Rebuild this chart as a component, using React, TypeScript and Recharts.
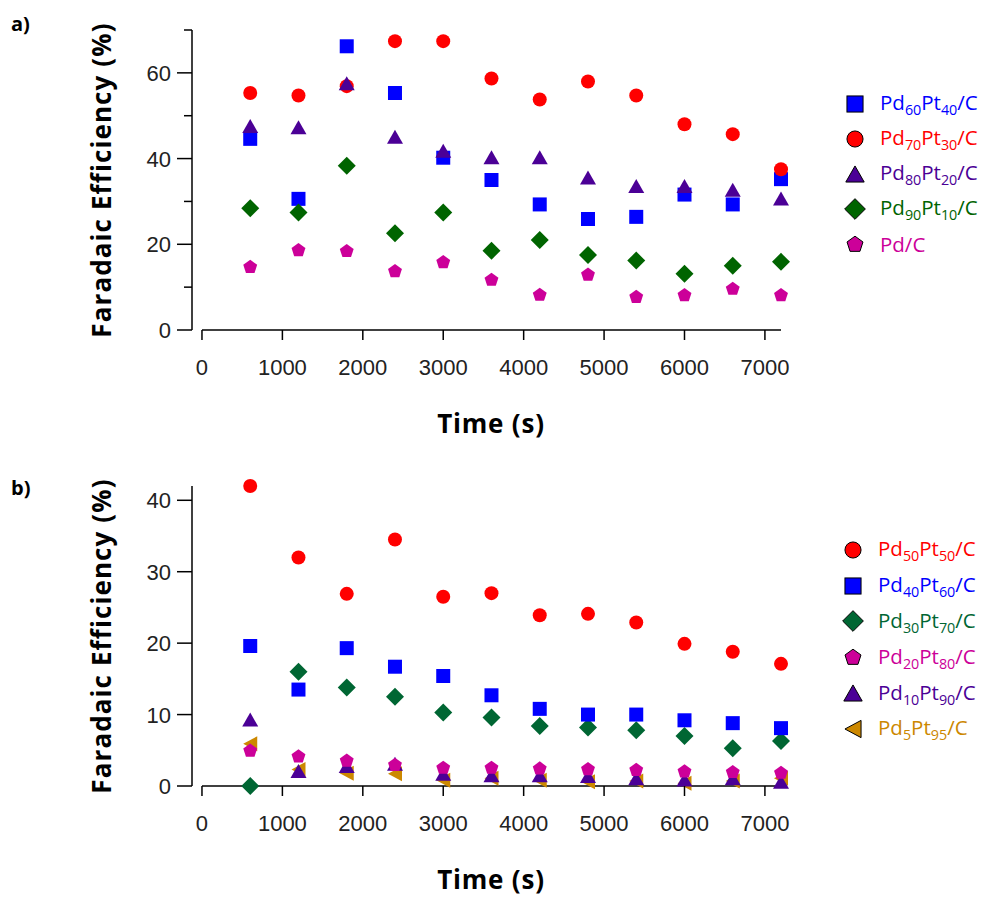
import { ScatterChart, Scatter, XAxis, YAxis, ReferenceLine } from "recharts"

const times = [600, 1200, 1800, 2400, 3000, 3600, 4200, 4800, 5400, 6000, 6600, 7200]
const xTicks = [0, 1000, 2000, 3000, 4000, 5000, 6000, 7000]
const aYTicks = [0, 10, 20, 30, 40, 50, 60, 70]
const bYTicks = [0, 10, 20, 30, 40]

// panel a
const pd60pt40 = [44.6, 30.6, 66.2, 55.3, 40.2, 35.0, 29.3, 25.9, 26.4, 31.6, 29.3, 35.2]
const pd70pt30 = [55.3, 54.7, 56.9, 67.4, 67.4, 58.7, 53.8, 58.0, 54.7, 48.0, 45.7, 37.5]
const pd80pt20 = [47.6, 47.3, 57.6, 45.1, 41.8, 40.3, 40.3, 35.6, 33.6, 33.6, 32.7, 30.7]
const pd90pt10 = [28.4, 27.4, 38.3, 22.6, 27.4, 18.5, 21.0, 17.5, 16.2, 13.1, 15.0, 15.9]
const pdC = [14.8, 18.7, 18.5, 13.8, 15.9, 11.8, 8.3, 13.0, 7.8, 8.2, 9.7, 8.2]

// panel b
const pd50pt50 = [42.0, 32.0, 26.9, 34.5, 26.5, 27.0, 23.9, 24.1, 22.9, 19.9, 18.8, 17.1]
const pd40pt60 = [19.6, 13.5, 19.3, 16.7, 15.4, 12.7, 10.8, 10.0, 10.0, 9.2, 8.8, 8.1]
const pd30pt70 = [0, 16.0, 13.8, 12.5, 10.3, 9.6, 8.4, 8.2, 7.8, 7.0, 5.3, 6.3]
const pd20pt80 = [5.0, 4.2, 3.6, 3.0, 2.6, 2.6, 2.5, 2.4, 2.3, 2.1, 2.0, 1.9]
const pd10pt90 = [9.3, 2.1, 2.8, 3.1, 1.7, 1.5, 1.5, 1.4, 1.1, 0.9, 1.1, 0.6]
const pd5pt95 = [5.9, 2.3, 1.8, 1.7, 0.8, 1.1, 0.8, 0.6, 0.7, 0.4, 0.7, 1.1]

type Kind = "square" | "circle" | "triangle" | "diamond" | "pentagon" | "left"

type SeriesDef = { pd: string; pt?: string; values: number[]; color: string; kind: Kind }

const seriesA: SeriesDef[] = [
  { pd: "60", pt: "40", values: pd60pt40, color: "#0000ff", kind: "square" },
  { pd: "70", pt: "30", values: pd70pt30, color: "#ff0000", kind: "circle" },
  { pd: "80", pt: "20", values: pd80pt20, color: "#4b0096", kind: "triangle" },
  { pd: "90", pt: "10", values: pd90pt10, color: "#006400", kind: "diamond" },
  { pd: "", values: pdC, color: "#cc0099", kind: "pentagon" },
]

const seriesB: SeriesDef[] = [
  { pd: "50", pt: "50", values: pd50pt50, color: "#ff0000", kind: "circle" },
  { pd: "40", pt: "60", values: pd40pt60, color: "#0000ff", kind: "square" },
  { pd: "30", pt: "70", values: pd30pt70, color: "#006633", kind: "diamond" },
  { pd: "20", pt: "80", values: pd20pt80, color: "#cc0099", kind: "pentagon" },
  { pd: "10", pt: "90", values: pd10pt90, color: "#4b0096", kind: "triangle" },
  { pd: "5", pt: "95", values: pd5pt95, color: "#cc8800", kind: "left" },
]
// drawing order for b: gold and purple underneath the rest
const drawOrderB = [5, 4, 2, 1, 0, 3]

const toData = (vals: number[]) => times.map((t, i) => ({ t, v: vals[i] }))

function Marker({ cx, cy, kind, color, k = 1, stroke }: any) {
  const common = { fill: color, stroke: stroke || "none", strokeWidth: stroke ? 1 : 0 }
  if (kind === "square") {
    const s = 7 * k
    return <rect x={cx - s} y={cy - s} width={2 * s} height={2 * s} {...common} />
  }
  if (kind === "circle") return <circle cx={cx} cy={cy} r={7 * k} {...common} />
  if (kind === "triangle") {
    const w = 8 * k
    const h = 7 * k
    return <polygon points={`${cx - w},${cy + h} ${cx + w},${cy + h} ${cx},${cy - h}`} {...common} />
  }
  if (kind === "diamond") {
    const s = 9 * k
    return <polygon points={`${cx},${cy - s} ${cx + s},${cy} ${cx},${cy + s} ${cx - s},${cy}`} {...common} />
  }
  if (kind === "left") {
    const w = 7 * k
    const h = 7.5 * k
    return <polygon points={`${cx - w},${cy} ${cx + w},${cy - h} ${cx + w},${cy + h}`} {...common} />
  }
  const r = 7.3 * k
  const pts = [0, 1, 2, 3, 4]
    .map((i) => {
      const a = -Math.PI / 2 + (i * 2 * Math.PI) / 5
      return `${cx + r * Math.cos(a)},${cy + 0.5 * k + r * Math.sin(a)}`
    })
    .join(" ")
  return <polygon points={pts} {...common} />
}

const tickFont = "'Liberation Sans', Arial, sans-serif"
const titleFont = "'Open Sans', 'Liberation Sans', sans-serif"

const makeYTick = (every: number) => (props: any) => {
  const { x, y, payload } = props
  const major = payload.value % every === 0
  return (
    <g>
      <line x1={x - (major ? 15 : 8)} x2={x} y1={y} y2={y} stroke="#000" strokeWidth={1.5} />
      {major && (
        <text x={x - 21} y={y + 8} textAnchor="end" fontSize={22} fontFamily={tickFont} fill="#222">
          {payload.value}
        </text>
      )}
    </g>
  )
}

const XTick = (props: any) => {
  const { x, y, payload } = props
  return (
    <g>
      <line x1={x} x2={x} y1={y} y2={y + 10} stroke="#000" strokeWidth={1.5} />
      <text x={x} y={y + 45} textAnchor="middle" fontSize={22} fontFamily={tickFont} fill="#222">
        {payload.value}
      </text>
    </g>
  )
}

const yTitle = (props: any) => {
  const vb = props.viewBox || {}
  const cy = vb.y + vb.height / 2
  return (
    <text
      x={101}
      y={cy}
      transform={`rotate(-90, 101, ${cy})`}
      textAnchor="middle"
      dominantBaseline="central"
      fontSize={26}
      letterSpacing={1.1}
      fontWeight={700}
      fontFamily={titleFont}
      fill="#000"
    >
      Faradaic Efficiency (%)
    </text>
  )
}

const xTitle = (props: any) => {
  const vb = props.viewBox || {}
  return (
    <text
      x={491}
      y={vb.y + 93}
      textAnchor="middle"
      dominantBaseline="central"
      fontSize={26}
      letterSpacing={0.8}
      fontWeight={700}
      fontFamily={titleFont}
      fill="#000"
    >
      Time (s)
    </text>
  )
}

function Panel({ series, order, yMax, yTicks, every, height, bottom }: { series: SeriesDef[]; order: number[]; yMax: number; yTicks: number[]; every: number; height: number; bottom: number }) {
  return (
    <ScatterChart width={989} height={height} margin={{ top: 30, right: 208, bottom, left: 0 }}>
      <XAxis
        type="number"
        dataKey="t"
        domain={[-124, 7200]}
        ticks={xTicks}
        axisLine={false}
        tickLine={false}
        tickSize={0}
        tickMargin={0}
        tick={XTick}
        height={100}
        label={xTitle}
      />
      <YAxis
        type="number"
        dataKey="v"
        domain={[0, yMax]}
        ticks={yTicks}
        width={192}
        axisLine={{ stroke: "#000", strokeWidth: 1.5 }}
        tickLine={false}
        tickSize={0}
        tickMargin={0}
        tick={makeYTick(every)}
        label={yTitle}
      />
      <ReferenceLine
        segment={[
          { x: 0, y: 0 },
          { x: 7200, y: 0 },
        ]}
        stroke="#000"
        strokeWidth={1.5}
      />
      {order.map((i) => {
        const s = series[i]
        return (
          <Scatter
            key={i}
            data={toData(s.values)}
            isAnimationActive={false}
            shape={(p: any) => <Marker cx={p.cx} cy={p.cy} kind={s.kind} color={s.color} />}
          />
        )
      })}
    </ScatterChart>
  )
}

function LegendBox({ series, top, left, gap }: { series: SeriesDef[]; top: number; left: number; gap: number }) {
  return (
    <div style={{ position: "absolute", top, left, fontFamily: titleFont }}>
      {series.map((s, i) => (
        <div key={i} style={{ display: "flex", alignItems: "center", height: gap, color: s.color, fontSize: 20.5 }}>
          <svg width={26} height={26} style={{ marginRight: 12 }}>
            <Marker cx={13} cy={13} kind={s.kind} color={s.color} k={1.15} stroke="#000" />
          </svg>
          {s.pt ? (
            <span>
              Pd<span style={{ fontSize: "0.7em", verticalAlign: "-0.35em" }}>{s.pd}</span>Pt
              <span style={{ fontSize: "0.7em", verticalAlign: "-0.35em" }}>{s.pt}</span>/C
            </span>
          ) : (
            <span>Pd/C</span>
          )}
        </div>
      ))}
    </div>
  )
}

export default function App() {
  return (
    <div style={{ position: "absolute", left: 0, top: 0, width: 989, height: 897, background: "#fff", overflow: "hidden" }}>
      <div style={{ position: "absolute", left: 0, top: 0 }}>
        <Panel series={seriesA} order={[0, 1, 2, 3, 4]} yMax={70} yTicks={aYTicks} every={20} height={450} bottom={20} />
      </div>
      <div style={{ position: "absolute", left: 0, top: 456 }}>
        <Panel series={seriesB} order={drawOrderB} yMax={42} yTicks={bYTicks} every={10} height={441} bottom={11} />
      </div>
      <div style={{ position: "absolute", left: 11, top: 10, fontFamily: titleFont, fontWeight: 700, fontSize: 20 }}>a)</div>
      <div style={{ position: "absolute", left: 11, top: 474, fontFamily: titleFont, fontWeight: 700, fontSize: 20 }}>b)</div>
      <LegendBox series={seriesA} top={86} left={842} gap={35} />
      <LegendBox series={seriesB} top={532} left={840} gap={35.8} />
    </div>
  )
}
